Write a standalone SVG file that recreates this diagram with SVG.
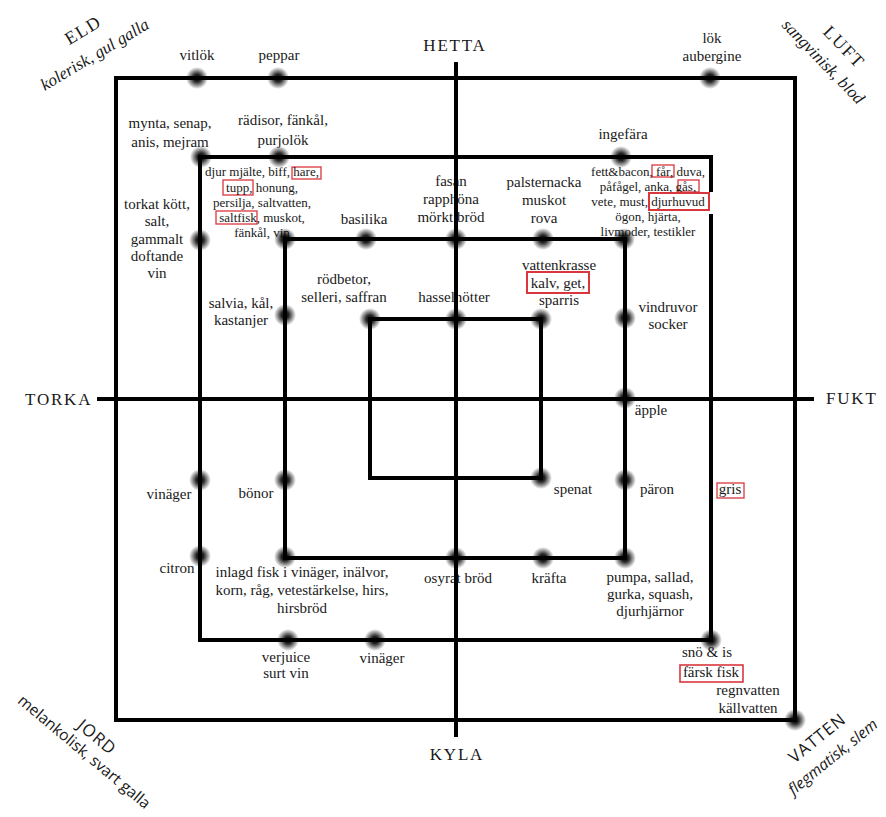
<svg xmlns="http://www.w3.org/2000/svg" width="886" height="817" viewBox="0 0 886 817">
<defs>
<radialGradient id="dot">
<stop offset="0" stop-color="#000" stop-opacity="1"/>
<stop offset="0.35" stop-color="#000" stop-opacity="0.85"/>
<stop offset="1" stop-color="#000" stop-opacity="0"/>
</radialGradient>
<style>
.t{font-family:"Liberation Serif",serif;font-size:15px;text-anchor:middle;fill:#1a1a1a}
.s{font-size:13px}
.ax{font-family:"Liberation Serif",serif;font-size:17px;letter-spacing:1.8px;fill:#1a1a1a}
.cs{font-family:"Liberation Serif",serif;font-size:18px;letter-spacing:1.5px;text-anchor:middle;fill:#1a1a1a}
.csi{font-family:"Liberation Serif",serif;font-style:italic;font-size:17px;text-anchor:middle;fill:#1a1a1a}
.c{font-family:"Open Sans","DejaVu Sans",sans-serif;font-size:17px;text-anchor:middle;fill:#1a1a1a}
.ci{font-family:"Open Sans","DejaVu Sans",sans-serif;font-style:italic;font-size:15.5px;text-anchor:middle;fill:#1a1a1a}
.cn{font-family:"Open Sans","DejaVu Sans",sans-serif;font-size:15.5px;text-anchor:middle;fill:#1a1a1a}
.ln{fill:none;stroke:#000;stroke-width:4}
.box{fill:none;stroke:#d9363e;stroke-width:1.3}
.boxb{fill:none;stroke:#d9363e;stroke-width:2}
.d{fill:url(#dot)}
</style>
</defs>
<rect width="886" height="817" fill="#fff"/>

<!-- corner labels -->
<g id="eld">
<text class="cs" transform="translate(83,30) rotate(-31)" y="6">ELD</text>
<text class="csi" transform="translate(95,55) rotate(-31)" y="5">kolerisk, gul galla</text>
</g>
<g id="luft">
<text class="cs" transform="translate(844,47) rotate(46)" y="6">LUFT</text>
<text class="csi" transform="translate(823,62) rotate(46)" y="5">sangvinisk, blod</text>
</g>
<g id="jord">
<text class="c" transform="translate(97,737) rotate(40)" y="6" letter-spacing="1">JORD</text>
<text class="cn" transform="translate(84,752) rotate(40)" y="5">melankolisk, svart galla</text>
</g>
<g id="vatten">
<text class="c" transform="translate(817,738) rotate(-39)" y="6" letter-spacing="1">VATTEN</text>
<text class="ci" transform="translate(833,757) rotate(-39)" y="5">flegmatisk, slem</text>
</g>

<!-- axis labels -->
<g id="axis-labels">
<text class="ax" x="455" y="51" text-anchor="middle">HETTA</text>
<text class="ax" x="457" y="760" text-anchor="middle">KYLA</text>
<text class="ax" x="25" y="405">TORKA</text>
<text class="ax" x="826" y="404">FUKT</text>
</g>

<!-- food labels -->
<g id="vitlok"><text class="t" x="197" y="60">vitlök</text></g>
<g id="peppar"><text class="t" x="279" y="60">peppar</text></g>
<g id="lok"><text class="t" x="712" y="43">lök</text><text class="t" x="712" y="61">aubergine</text></g>
<g id="mynta"><text class="t" x="170" y="128">mynta, senap,</text><text class="t" x="170" y="147">anis, mejram</text></g>
<g id="radisor"><text class="t" x="283" y="125">rädisor, fänkål,</text><text class="t" x="283" y="145">purjolök</text></g>
<g id="djur">
<rect class="box" x="292" y="167" width="29" height="12"/>
<rect class="box" x="223" y="180" width="30" height="15"/>
<rect class="box" x="216" y="211" width="41" height="13"/>
<text class="t s" x="262" y="176">djur mjälte, biff, hare,</text>
<text class="t s" x="262" y="192">tupp, honung,</text>
<text class="t s" x="262" y="207">persilja, saltvatten,</text>
<text class="t s" x="262" y="222">saltfisk, muskot,</text>
<text class="t s" x="262" y="237">fänkål, vin</text>
</g>
<g id="torkat">
<text class="t" x="157" y="209">torkat kött,</text>
<text class="t" x="157" y="226">salt,</text>
<text class="t" x="157" y="244">gammalt</text>
<text class="t" x="157" y="261">doftande</text>
<text class="t" x="157" y="278">vin</text>
</g>
<g id="ingefara"><text class="t" x="623" y="139">ingefära</text></g>
<g id="fett">
<rect class="box" x="652" y="165" width="22" height="12"/>
<rect class="box" x="678" y="180" width="21" height="12"/>
<text class="t s" x="648" y="176">fett&amp;bacon, får, duva,</text>
<text class="t s" x="648" y="191">påfågel, anka, gås,</text>
<text class="t s" x="648" y="221">ögon, hjärta,</text>
<text class="t s" x="648" y="236">livmoder, testikler</text>
</g>
<g id="fasan"><text class="t" x="451" y="186">fasan</text><text class="t" x="451" y="204">rapphöna</text><text class="t" x="451" y="222">mörkt bröd</text></g>
<g id="palsternacka"><text class="t" x="544" y="187">palsternacka</text><text class="t" x="544" y="205">muskot</text><text class="t" x="544" y="223">rova</text></g>
<g id="basilika"><text class="t" x="364" y="224">basilika</text></g>
<g id="rodbetor"><text class="t" x="344" y="284">rödbetor,</text><text class="t" x="344" y="302">selleri, saffran</text></g>
<g id="hasselnotter"><text class="t" x="454" y="302">hasselnötter</text></g>
<g id="vattenkrasse">
<rect class="boxb" x="527" y="272" width="62" height="21"/>
<text class="t" x="559" y="270">vattenkrasse</text>
<text class="t" x="558" y="288">kalv, get,</text>
<text class="t" x="559" y="305">sparris</text>
</g>
<g id="vindruvor"><text class="t" x="668" y="312">vindruvor</text><text class="t" x="668" y="329">socker</text></g>
<g id="salvia"><text class="t" x="241" y="308">salvia, kål,</text><text class="t" x="241" y="325">kastanjer</text></g>
<g id="apple"><text class="t" x="651" y="415">äpple</text></g>
<g id="vinager1"><text class="t" x="169" y="499">vinäger</text></g>
<g id="bonor"><text class="t" x="256" y="498">bönor</text></g>
<g id="spenat"><text class="t" x="573" y="494">spenat</text></g>
<g id="paron"><text class="t" x="657" y="494">päron</text></g>
<g id="gris"><rect class="box" x="717" y="483" width="27" height="15"/><text class="t" x="730" y="494">gris</text></g>
<g id="citron"><text class="t" x="177" y="573">citron</text></g>
<g id="inlagd"><text class="t" x="302" y="577">inlagd fisk i vinäger, inälvor,</text><text class="t" x="302" y="595">korn, råg, vetestärkelse, hirs,</text><text class="t" x="302" y="613">hirsbröd</text></g>
<g id="osyrat"><text class="t" x="458" y="583">osyrat bröd</text></g>
<g id="krafta"><text class="t" x="549" y="583">kräfta</text></g>
<g id="pumpa"><text class="t" x="650" y="582">pumpa, sallad,</text><text class="t" x="650" y="599">gurka, squash,</text><text class="t" x="650" y="616">djurhjärnor</text></g>
<g id="verjuice"><text class="t" x="286" y="662">verjuice</text><text class="t" x="286" y="678">surt vin</text></g>
<g id="vinager2"><text class="t" x="382" y="663">vinäger</text></g>
<g id="sno"><text class="t" x="707" y="657">snö &amp; is</text></g>
<g id="farsk"><text class="t" x="711" y="677">färsk fisk</text></g>
<g id="regnvatten"><text class="t" x="748" y="695">regnvatten</text><text class="t" x="748" y="713">källvatten</text></g>

<!-- connectors -->
<g id="connectors">
<rect class="ln" x="116" y="78" width="679" height="642"/>
<rect class="ln" x="200" y="157" width="511" height="483"/>
<rect class="ln" x="285" y="239" width="340" height="319"/>
<rect class="ln" x="370" y="319" width="171" height="159"/>
<path class="ln" d="M456 62V737M97 399H814"/>
</g>

<!-- djurhuvud line drawn over the border -->
<g id="djurhuvud">
<rect x="704" y="192" width="12" height="22" fill="#fff"/>
<rect class="boxb" x="649" y="193" width="60" height="17"/>
<text class="t s" x="648" y="206">vete, must, djurhuvud</text>
</g>
<g id="farsk-box"><rect x="680" y="665" width="63" height="17" fill="none" stroke="#d9363e" stroke-width="1.6"/></g>

<!-- dots -->
<g id="dots">
<circle class="d" cx="197" cy="78" r="11"/>
<circle class="d" cx="278" cy="78" r="11"/>
<circle class="d" cx="710" cy="78" r="11"/>
<circle class="d" cx="795" cy="720" r="11"/>
<circle class="d" cx="201" cy="157" r="11"/>
<circle class="d" cx="279" cy="157" r="11"/>
<circle class="d" cx="621" cy="157" r="11"/>
<circle class="d" cx="200" cy="240" r="11"/>
<circle class="d" cx="200" cy="480" r="11"/>
<circle class="d" cx="200" cy="556" r="11"/>
<circle class="d" cx="288" cy="640" r="11"/>
<circle class="d" cx="375" cy="640" r="11"/>
<circle class="d" cx="711" cy="640" r="11"/>
<circle class="d" cx="285" cy="239" r="11"/>
<circle class="d" cx="366" cy="239" r="11"/>
<circle class="d" cx="456" cy="239" r="11"/>
<circle class="d" cx="543" cy="239" r="11"/>
<circle class="d" cx="624" cy="239" r="11"/>
<circle class="d" cx="285" cy="315" r="11"/>
<circle class="d" cx="285" cy="480" r="11"/>
<circle class="d" cx="285" cy="557" r="11"/>
<circle class="d" cx="456" cy="558" r="11"/>
<circle class="d" cx="543" cy="558" r="11"/>
<circle class="d" cx="625" cy="558" r="11"/>
<circle class="d" cx="625" cy="318" r="11"/>
<circle class="d" cx="625" cy="398" r="11"/>
<circle class="d" cx="625" cy="480" r="11"/>
<circle class="d" cx="370" cy="319" r="11"/>
<circle class="d" cx="456" cy="319" r="11"/>
<circle class="d" cx="541" cy="319" r="11"/>
<circle class="d" cx="541" cy="478" r="11"/>
</g>
</svg>
